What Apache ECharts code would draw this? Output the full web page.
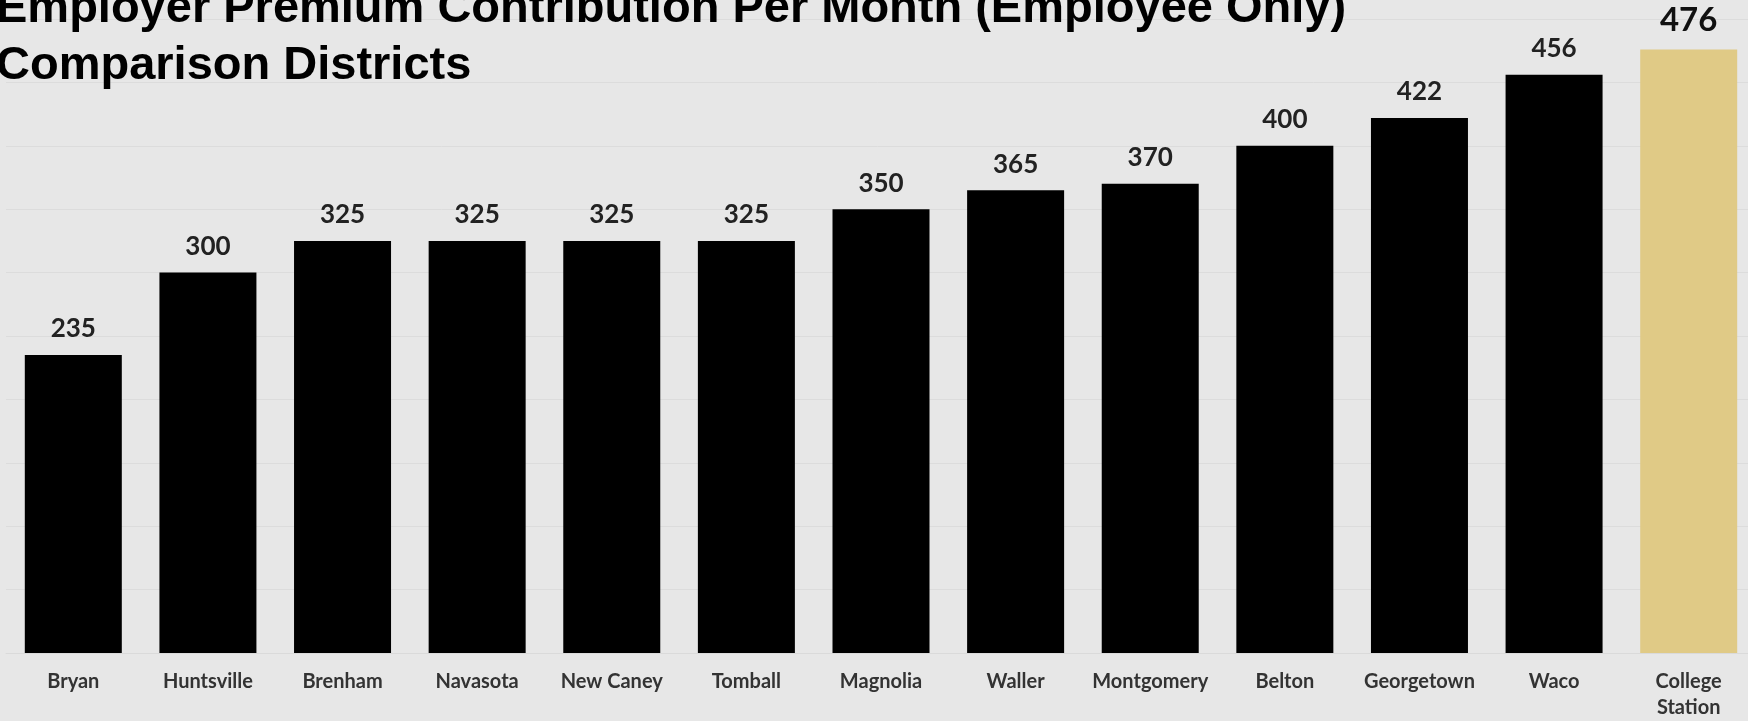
<!DOCTYPE html>
<html>
<head>
<meta charset="utf-8">
<title>Employer Premium Contribution</title>
<script src="https://cdn.jsdelivr.net/npm/echarts@6/dist/echarts.min.js"></script>
<style>
  html, body { margin: 0; padding: 0; background: #e7e7e7; }
  #chart { width: 1748px; height: 721px; }
</style>
</head>
<body>
<div id="chart"></div>
<script>
// 各学区数据
var districts = ['Bryan', 'Huntsville', 'Brenham', 'Navasota', 'New Caney', 'Tomball',
  'Magnolia', 'Waller', 'Montgomery', 'Belton', 'Georgetown', 'Waco', 'College\nStation'];
var premiums = [235, 300, 325, 325, 325, 325, 350, 365, 370, 400, 422, 456, 476];
var highlight = 'College\nStation';

var chart = echarts.init(document.getElementById('chart'));

var barData = premiums.map(function (v, i) {
  if (districts[i] === highlight) {
    return {
      value: v,
      itemStyle: { color: '#e0ca86' },
      label: { fontSize: 33, color: '#111' }
    };
  }
  return v;
});

chart.setOption({
  backgroundColor: '#e7e7e7',
  animation: false,
  title: {
    text: 'Employer Premium Contribution Per Month (Employee Only)\nComparison Districts',
    left: -4,
    top: -19,
    padding: 0,
    textStyle: {
      fontFamily: 'Liberation Sans',
      fontWeight: 'bold',
      fontSize: 47,
      lineHeight: 57,
      color: '#000'
    }
  },
  // 图表右侧被裁切，网格宽度超出画布
  grid: { left: 6, width: 1750, top: 19, bottom: 68, outerBoundsMode: 'none' },
  xAxis: {
    type: 'category',
    data: districts,
    axisLine: { show: true, lineStyle: { color: '#dadada', width: 1 } },
    axisTick: { show: false },
    axisLabel: {
      interval: 0,
      margin: 16,
      fontFamily: 'Lato',
      fontWeight: 'bold',
      fontSize: 20,
      lineHeight: 26,
      color: '#333'
    }
  },
  yAxis: {
    type: 'value',
    min: 0,
    max: 500,
    interval: 50,
    axisLabel: { show: false },
    axisLine: { show: false },
    axisTick: { show: false },
    splitLine: { lineStyle: { color: '#dcdcdc', width: 1 } }
  },
  series: [{
    type: 'bar',
    data: barData,
    barWidth: 97,
    itemStyle: { color: '#000' },
    label: {
      show: true,
      position: 'top',
      distance: 13,
      fontFamily: 'Lato',
      fontWeight: 'bold',
      fontSize: 26,
      color: '#222'
    }
  }]
});
</script>
</body>
</html>
